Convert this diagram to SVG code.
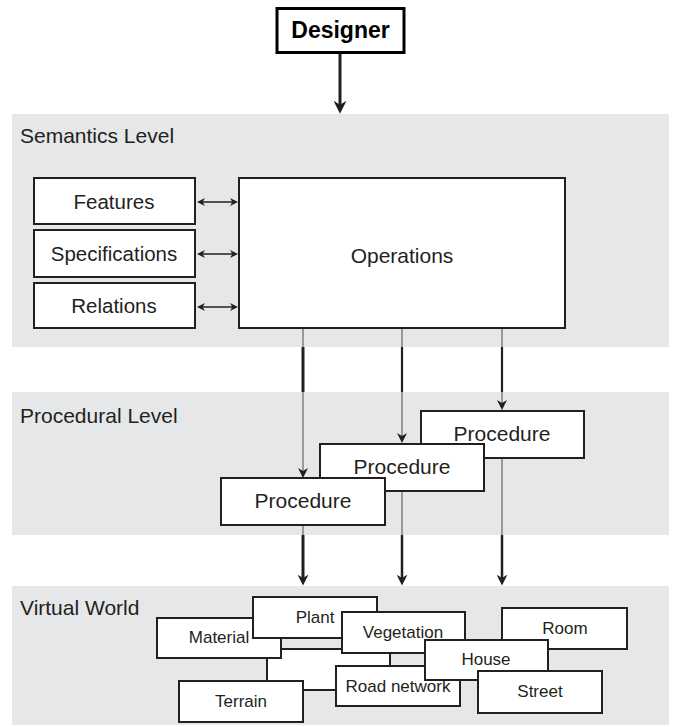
<svg xmlns="http://www.w3.org/2000/svg" width="676" height="727" viewBox="0 0 676 727">
<style>
.band{fill:#e6e7e8}
.box{fill:#fff;stroke:#231f20;stroke-width:2}
.lbl{font-family:"Liberation Sans",Arial,sans-serif;fill:#231f20;text-anchor:middle}
.sec{font-family:"Liberation Sans",Arial,sans-serif;font-size:21px;fill:#231f20}
.thin{stroke:#6d6e71;stroke-width:1.3;fill:none}
.thick{stroke:#231f20;stroke-width:3;fill:none}
.dbl{stroke:#231f20;stroke-width:1.5;fill:none}
</style>
<defs>
<marker id="ahBig" viewBox="0 0 10 10" markerUnits="userSpaceOnUse" markerWidth="13" markerHeight="13" refX="4" refY="5" orient="auto"><path d="M0,0 L10,5 L0,10 L3,5 z" fill="#231f20"/></marker>
<marker id="ahMed" viewBox="0 0 10 10" markerUnits="userSpaceOnUse" markerWidth="11" markerHeight="11" refX="4" refY="5" orient="auto"><path d="M0,0 L10,5 L0,10 L3,5 z" fill="#231f20"/></marker>
<marker id="ahSm" viewBox="0 0 10 10" markerUnits="userSpaceOnUse" markerWidth="10" markerHeight="10" refX="5" refY="5" orient="auto"><path d="M0,0 L10,5 L0,10 L3,5 z" fill="#231f20"/></marker>
<marker id="ahDbl" viewBox="0 0 10 10" markerUnits="userSpaceOnUse" markerWidth="8" markerHeight="8" refX="5" refY="5" orient="auto-start-reverse"><path d="M0,0 L10,5 L0,10 L3,5 z" fill="#231f20"/></marker>
</defs>

<g id="bands">
<rect class="band" x="12" y="114" width="657" height="233"/>
<rect class="band" x="12" y="392" width="657" height="143"/>
<rect class="band" x="12" y="586" width="657" height="139"/>
<text class="sec" x="20" y="143">Semantics Level</text>
<text class="sec" x="20" y="423">Procedural Level</text>
<text class="sec" x="20" y="615">Virtual World</text>
</g>

<g id="connectors">
<line class="thick" x1="340" y1="53" x2="340" y2="106" marker-end="url(#ahBig)"/>
<line class="dbl" x1="201" y1="202" x2="234" y2="202" marker-start="url(#ahDbl)" marker-end="url(#ahDbl)"/>
<line class="dbl" x1="201" y1="254" x2="234" y2="254" marker-start="url(#ahDbl)" marker-end="url(#ahDbl)"/>
<line class="dbl" x1="201" y1="307" x2="234" y2="307" marker-start="url(#ahDbl)" marker-end="url(#ahDbl)"/>
<!-- Operations to procedures -->
<line class="thin" x1="303" y1="329" x2="303" y2="473" marker-end="url(#ahSm)"/>
<line class="thick" x1="303" y1="347" x2="303" y2="392"/>
<line class="thin" x1="402" y1="329" x2="402" y2="438" marker-end="url(#ahSm)"/>
<line class="thick" x1="402" y1="347" x2="402" y2="392" style="stroke-width:2.2"/>
<line class="thin" x1="502" y1="329" x2="502" y2="405" marker-end="url(#ahSm)"/>
<line class="thick" x1="502" y1="347" x2="502" y2="392" style="stroke-width:2.2"/>
<!-- procedures to virtual world -->
<line class="thin" x1="303" y1="526" x2="303" y2="536"/>
<line class="thick" x1="303" y1="535" x2="303" y2="579" marker-end="url(#ahMed)"/>
<line class="thin" x1="402" y1="491" x2="402" y2="536"/>
<line class="thick" x1="402" y1="535" x2="402" y2="579" style="stroke-width:2.5" marker-end="url(#ahMed)"/>
<line class="thin" x1="502" y1="458" x2="502" y2="536"/>
<line class="thick" x1="502" y1="535" x2="502" y2="579" style="stroke-width:2.5" marker-end="url(#ahMed)"/>
</g>

<g id="designer">
<rect x="277" y="8.5" width="127" height="44" fill="#fff" stroke="#000" stroke-width="3"/>
<text class="lbl" x="340.5" y="38" style="font-size:23px;font-weight:bold;fill:#000">Designer</text>
</g>

<g id="features">
<rect class="box" x="34" y="178" width="161" height="46"/>
<text class="lbl" x="114" y="209" style="font-size:20.5px">Features</text>
</g>
<g id="specifications">
<rect class="box" x="34" y="230" width="161" height="47"/>
<text class="lbl" x="114" y="261" style="font-size:20.5px">Specifications</text>
</g>
<g id="relations">
<rect class="box" x="34" y="283" width="161" height="45"/>
<text class="lbl" x="114" y="313" style="font-size:20.5px">Relations</text>
</g>
<g id="operations">
<rect class="box" x="239" y="178" width="326" height="150"/>
<text class="lbl" x="402" y="263" style="font-size:21px">Operations</text>
</g>

<g id="procedure3">
<rect class="box" x="421" y="411" width="163" height="47"/>
<text class="lbl" x="502" y="441" style="font-size:21px">Procedure</text>
</g>
<g id="procedure2">
<rect class="box" x="320" y="444" width="164" height="47"/>
<text class="lbl" x="402" y="474" style="font-size:21px">Procedure</text>
</g>
<g id="procedure1">
<rect class="box" x="221" y="478" width="164" height="47"/>
<text class="lbl" x="303" y="508" style="font-size:21px">Procedure</text>
</g>

<g id="unnamed-box">
<rect class="box" x="267" y="649" width="123" height="41"/>
</g>
<g id="material">
<rect class="box" x="157" y="618" width="124" height="40"/>
<text class="lbl" x="219" y="643" style="font-size:17px">Material</text>
</g>
<g id="plant">
<rect class="box" x="253" y="597" width="124" height="41"/>
<text class="lbl" x="315" y="623" style="font-size:17px">Plant</text>
</g>
<g id="vegetation">
<rect class="box" x="342" y="612" width="123" height="41"/>
<text class="lbl" x="403" y="638" style="font-size:17px">Vegetation</text>
</g>
<g id="room">
<rect class="box" x="502" y="608" width="125" height="41"/>
<text class="lbl" x="565" y="634" style="font-size:17px">Room</text>
</g>
<g id="road-network">
<rect class="box" x="336" y="666" width="124" height="40"/>
<text class="lbl" x="398" y="692" style="font-size:17px">Road network</text>
</g>
<g id="house">
<rect class="box" x="425" y="640" width="123" height="40"/>
<text class="lbl" x="486" y="665" style="font-size:17px">House</text>
</g>
<g id="street">
<rect class="box" x="478" y="671" width="124" height="42"/>
<text class="lbl" x="540" y="697" style="font-size:17px">Street</text>
</g>
<g id="terrain">
<rect class="box" x="179" y="681" width="124" height="41"/>
<text class="lbl" x="241" y="707" style="font-size:17px">Terrain</text>
</g>
</svg>
